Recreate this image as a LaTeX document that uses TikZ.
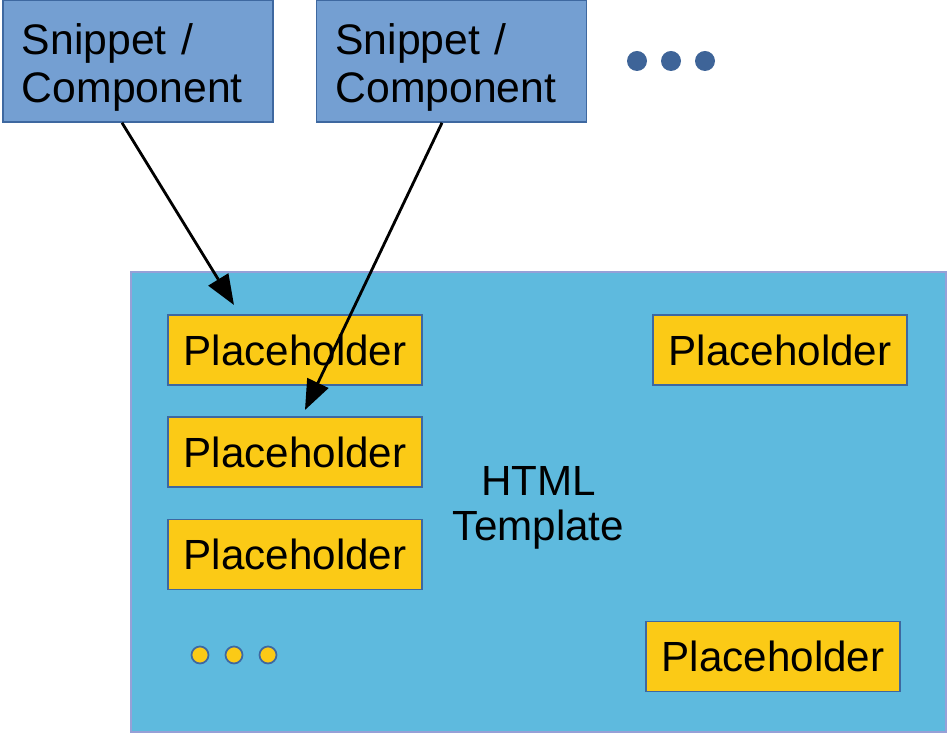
\documentclass[tikz,border=0pt]{standalone}
\usepackage{fontspec}
\setmainfont{Liberation Sans}
\usetikzlibrary{arrows.meta}

\definecolor{snipblue}{RGB}{116,159,210}
\definecolor{snipedge}{RGB}{62,104,160}
\definecolor{tplblue}{RGB}{94,186,222}
\definecolor{tpledge}{RGB}{150,160,215}
\definecolor{phyellow}{RGB}{251,202,22}
\definecolor{dotblue}{RGB}{62,100,152}

\tikzstyle{snippet} = [rectangle, minimum width=5.4cm, minimum height=2.44cm, text width=4.64cm, inner xsep=0.38cm, align=left, fill=snipblue, draw=snipedge, line width=0.9pt, font=\fontsize{24.3}{27.2}\selectfont]
\tikzstyle{template} = [rectangle, minimum width=16.3cm, minimum height=9.2cm, align=center, fill=tplblue, draw=tpledge, line width=0.7pt, font=\fontsize{24}{25.8}\selectfont]
\tikzstyle{placeholder} = [rectangle, minimum width=5.08cm, minimum height=1.4cm, text centered, fill=phyellow, draw=snipedge, line width=0.9pt, font=\fontsize{24}{27}\selectfont]
\tikzstyle{bigdot} = [circle, minimum size=0.4cm, inner sep=0pt, fill=dotblue]
\tikzstyle{smalldot} = [circle, minimum size=0.34cm, inner sep=0pt, fill=phyellow, draw=snipedge, line width=1pt]
\tikzstyle{arrow} = [line width=1.6pt, -{Triangle[length=0.6cm,width=0.46cm]}]

\begin{document}
\begin{tikzpicture}
  \useasboundingbox (0,0) rectangle (18.98,14.72);

  \node (Snippet1) [snippet] at (2.76,13.5) {\rule{0pt}{25pt}Snippet /\\Component};
  \node (Snippet2) [snippet, right of=Snippet1, xshift=5.27cm] {\rule{0pt}{25pt}Snippet /\\Component};
  \node (Dot1) [bigdot] at (12.74,13.5) {};
  \node (Dot2) [bigdot, right of=Dot1, xshift=-0.32cm] {};
  \node (Dot3) [bigdot, right of=Dot2, xshift=-0.32cm] {};

  \node (Template) [template] at (10.77,4.68) {\rule{0pt}{23pt}HTML\\Template};

  \node (Place1) [placeholder] at (5.9,7.72) {Placeholder};
  \node (Place2) [placeholder, below of=Place1, yshift=-1.04cm] {Placeholder};
  \node (Place3) [placeholder, below of=Place2, yshift=-1.05cm] {Placeholder};
  \node (Place4) [placeholder, right of=Place1, xshift=8.7cm] {Placeholder};
  \node (Place5) [placeholder] at (15.46,1.59) {Placeholder};

  \node (Small1) [smalldot] at (4.0,1.62) {};
  \node (Small2) [smalldot, right of=Small1, xshift=-0.32cm] {};
  \node (Small3) [smalldot, right of=Small2, xshift=-0.32cm] {};

  \coordinate (Tip1) at (4.68,8.62);
  \coordinate (Tip2) at (6.1,6.52);

  \draw [arrow] ([xshift=-0.32cm]Snippet1.south) -- (Tip1);
  \draw [arrow] ([xshift=-0.19cm]Snippet2.south) -- (Tip2);
\end{tikzpicture}
\end{document}
